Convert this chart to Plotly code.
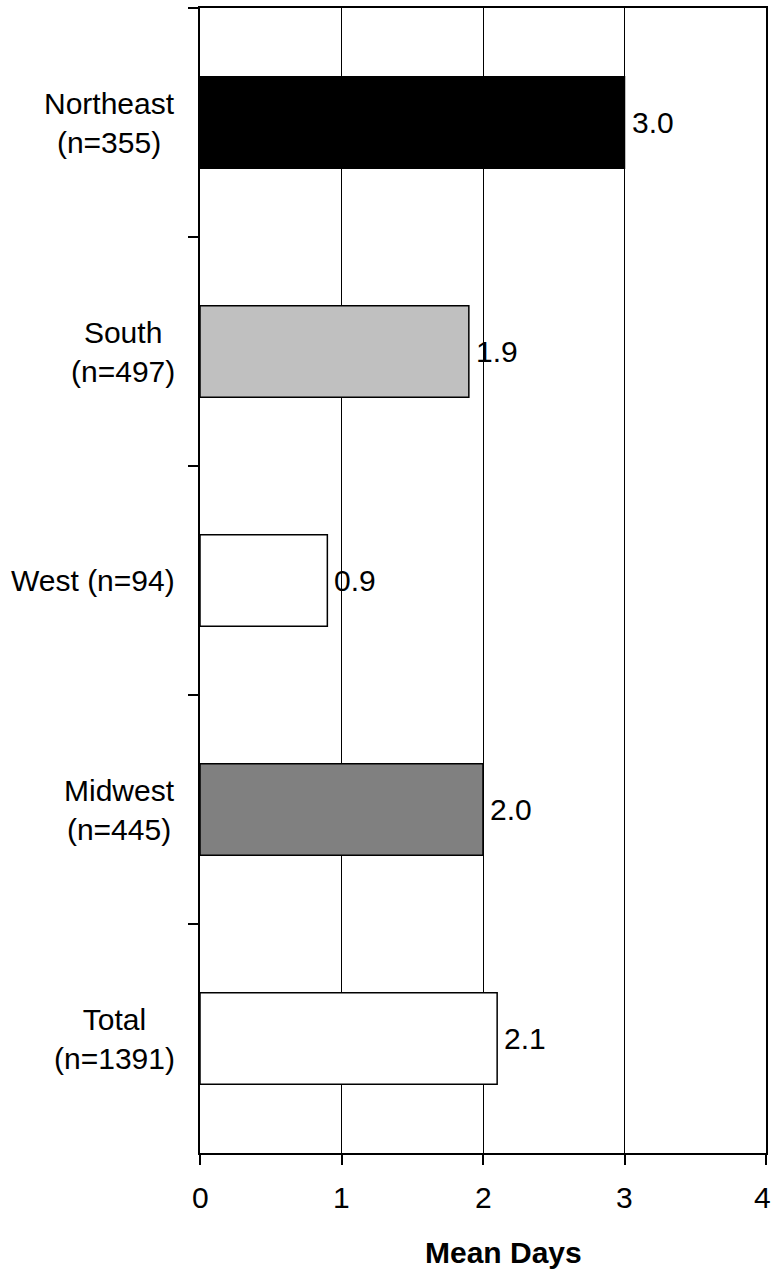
import plotly.graph_objects as go

# Mean days by region
regions = ["Northeast", "South", "West", "Midwest", "Total"]
region_labels = ["Northeast<br>(n=355)", "South<br>(n=497)", "West (n=94)",
                 "Midwest<br>(n=445)", "Total<br>(n=1391)"]
mean_days = [3.0, 1.9, 0.9, 2.0, 2.1]
bar_colors = ["#000000", "#c0c0c0", "#ffffff", "#808080", "#ffffff"]
x_ticks = [0, 1, 2, 3, 4]
x_title = "Mean Days"

FONT = "Liberation Sans, Arial, sans-serif"
FS = 30

fig = go.Figure(go.Bar(
    x=mean_days,
    y=regions,
    orientation="h",
    marker=dict(color=bar_colors, line=dict(color="#000000", width=1.5)),
    hoverinfo="skip",
))

annotations = []
# value labels to the right of each bar
for r, v in zip(regions, mean_days):
    annotations.append(dict(
        x=v, y=r, xref="x", yref="y", text=f"{v:.1f}", showarrow=False,
        xanchor="left", yanchor="middle", xshift=5,
        font=dict(family=FONT, size=FS, color="#000000"),
    ))
# category labels, lines centred within each block
for r, lab in zip(regions, region_labels):
    annotations.append(dict(
        x=0, y=r, xref="paper", yref="y", text=lab, showarrow=False,
        xanchor="right", yanchor="middle", align="center", xshift=-23,
        font=dict(family=FONT, size=FS, color="#000000"),
    ))
# x tick labels (the last one nudged in so it stays on the page)
for i, t in enumerate(x_ticks):
    annotations.append(dict(
        x=t, y=0, xref="x", yref="paper", text=str(t), showarrow=False,
        xanchor="center", yanchor="middle", yshift=-44,
        xshift=-4 if i == len(x_ticks) - 1 else 0,
        font=dict(family=FONT, size=FS, color="#000000"),
    ))
# x-axis title
annotations.append(dict(
    x=0.5, y=0, xref="paper", yref="paper", text=f"<b>{x_title}</b>",
    showarrow=False, xanchor="center", yanchor="middle",
    xshift=20, yshift=-99,
    font=dict(family=FONT, size=FS, color="#000000"),
))

fig.update_layout(
    width=772, height=1271,
    margin=dict(l=200, r=6, t=8, b=118, autoexpand=False),
    paper_bgcolor="#ffffff", plot_bgcolor="#ffffff",
    showlegend=False, bargap=0.6,
    font=dict(family=FONT, size=FS, color="#000000"),
    annotations=annotations,
    xaxis=dict(
        range=[0, 4], tickvals=x_ticks, showticklabels=False,
        showgrid=True, gridcolor="#000000", gridwidth=1,
        showline=True, linecolor="#000000", linewidth=2, mirror=True,
        ticks="outside", ticklen=10, tickwidth=2, tickcolor="#000000",
        zeroline=False, automargin=False,
    ),
    yaxis=dict(
        autorange="reversed", showticklabels=False,
        showgrid=False, zeroline=False, automargin=False,
        showline=True, linecolor="#000000", linewidth=2, mirror=True,
        ticks="outside", tickson="boundaries", ticklen=10, tickwidth=2,
        tickcolor="#000000",
    ),
)

fig.write_html("out.html")
